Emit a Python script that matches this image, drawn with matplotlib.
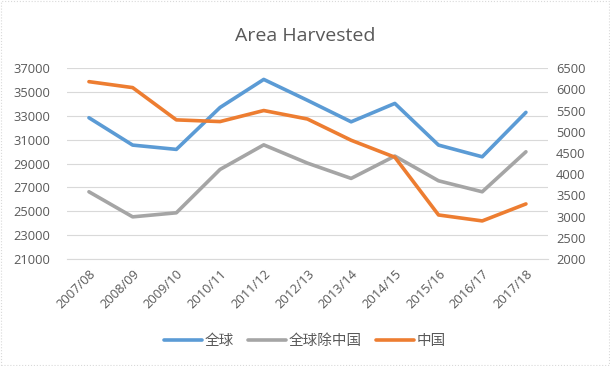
import numpy as np
import matplotlib.pyplot as plt

plt.rcParams['font.family'] = ['Open Sans', 'Noto Sans CJK SC', 'DejaVu Sans']

seasons = ['2007/08', '2008/09', '2009/10', '2010/11', '2011/12', '2012/13',
           '2013/14', '2014/15', '2015/16', '2016/17', '2017/18']
world = [32840, 30550, 30190, 33700, 36050, 34300, 32500, 34040, 30550, 29570, 33290]
world_ex_china = [26640, 24540, 24880, 28510, 30570, 29040, 27760, 29630, 27560, 26640, 29990]
china = [6180, 6040, 5280, 5240, 5500, 5300, 4800, 4400, 3040, 2900, 3300]

text_c = '#595959'
x = np.arange(len(seasons))

fig = plt.figure(figsize=(6.1, 3.66), dpi=100)
ax = fig.add_axes([0.110, 0.292, 0.788, 0.522])
ax2 = ax.twinx()

l1, = ax.plot(x, world, color='#5B9BD5', lw=2.6, label='全球', solid_capstyle='round')
l2, = ax.plot(x, world_ex_china, color='#A5A5A5', lw=2.6, label='全球除中国', solid_capstyle='round')
l3, = ax2.plot(x, china, color='#ED7D31', lw=2.6, label='中国', solid_capstyle='round')

ax.set_xlim(-0.5, len(seasons) - 0.5)
ax.set_ylim(21000, 37000)
ax.set_yticks(np.arange(21000, 37001, 2000))
ax2.set_ylim(2000, 6500)
ax2.set_yticks(np.arange(2000, 6501, 500))
ax.grid(axis='y', color='#D9D9D9', lw=0.8)
ax.set_axisbelow(True)

ax.set_xticks(x)
ax.set_xticklabels(seasons, rotation=45, ha='right', rotation_mode='anchor')
for a in (ax, ax2):
    for s in a.spines.values():
        s.set_visible(False)
    a.tick_params(length=0, colors=text_c, labelsize=9.3)
ax.spines['bottom'].set_visible(True)
ax.spines['bottom'].set_color('#D9D9D9')
ax.tick_params(axis='x', pad=6)
ax.tick_params(axis='y', pad=12)
ax2.tick_params(axis='y', pad=6)

fig.suptitle('Area Harvested', x=0.5, y=0.925, fontsize=14, color=text_c)
fig.legend(handles=[l1, l2, l3], loc='center', bbox_to_anchor=(0.5, 0.066), ncol=3,
           frameon=False, fontsize=10.5, labelcolor=text_c, handlelength=2.6,
           handletextpad=0.15, columnspacing=1.0)

fig.patches.append(plt.Rectangle((0.002, 0.003), 0.996, 0.994, transform=fig.transFigure,
                                 fill=False, ec='#D9D9D9', lw=0.8, ls=':'))
fig.savefig('out.png', dpi=100)
